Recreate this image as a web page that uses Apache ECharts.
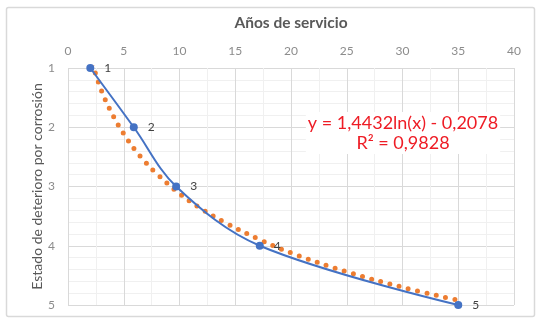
<!DOCTYPE html>
<html>
<head>
<meta charset="utf-8">
<script src="https://cdn.jsdelivr.net/npm/echarts@6/dist/echarts.min.js"></script>
<style>
  html, body { margin: 0; padding: 0; background: #fff; }
  #chart { width: 541px; height: 324px; }
</style>
</head>
<body>
<div id="chart"></div>
<script>
// observed points: años de servicio vs estado de deterioro
const years = [2, 5.9, 9.7, 17.2, 35];
const states = [1, 2, 3, 4, 5];
const pointLabels = ['1', '2', '3', '4', '5'];

// logarithmic trendline, values
const trendYears = [2.2, 3, 4, 5, 6, 7, 8, 10, 12, 14, 17, 20, 25, 30, 35];
const trendStates = [0.93, 1.38, 1.79, 2.11, 2.38, 2.60, 2.79, 3.12, 3.38, 3.60, 3.88, 4.12, 4.44, 4.70, 4.92];

const xTicks = [0, 5, 10, 15, 20, 25, 30, 35, 40];
const yTicks = [1, 2, 3, 4, 5];

const equationText = 'y = 1,4432ln(x) - 0,2078';
const r2Text = 'R² = 0,9828';

const chart = echarts.init(document.getElementById('chart'));

const option = {
  backgroundColor: '#fff',
  textStyle: { fontFamily: 'Lato' },
  animation: false,
  grid: { left: 68, right: 27, top: 68, bottom: 19 },
  graphic: [
    {
      type: 'rect',
      shape: { x: 6.5, y: 7.5, width: 528, height: 309, r: 2 },
      style: { fill: 'none', stroke: '#d9d9d9', lineWidth: 1.5 },
      z: -1
    },
    {
      type: 'text',
      x: 403, y: 133,
      z: 10,
      style: {
        text: equationText + '\n' + r2Text,
        fill: '#ee1c25',
        font: '18px Lato',
        align: 'center',
        verticalAlign: 'middle',
        lineHeight: 20,
        backgroundColor: '#fff',
        padding: [1, 2]
      }
    }
  ],
  xAxis: {
    type: 'value',
    position: 'top',
    min: xTicks[0],
    max: xTicks[xTicks.length - 1],
    interval: 5,
    name: 'Años de servicio',
    nameLocation: 'middle',
    nameGap: 37,
    nameTextStyle: { color: '#595959', fontSize: 15.5, fontWeight: 'bold' },
    axisLine: { show: false },
    axisTick: { show: false },
    axisLabel: { color: '#8c8c8c', fontSize: 12, margin: 11 },
    splitLine: { show: true, lineStyle: { color: '#d9d9d9', width: 1 } },
    minorTick: { show: false, splitNumber: 2 },
    minorSplitLine: { show: true, lineStyle: { color: '#f0f0f0', width: 1 } }
  },
  yAxis: {
    type: 'value',
    inverse: true,
    min: yTicks[0],
    max: yTicks[yTicks.length - 1],
    interval: 1,
    name: 'Estado de deterioro por corrosión',
    nameLocation: 'middle',
    nameGap: 24,
    nameMoveOverlap: false,
    nameTextStyle: { color: '#595959', fontSize: 14 },
    axisLine: { show: false },
    axisTick: { show: false },
    axisLabel: { color: '#8c8c8c', fontSize: 12, margin: 13 },
    splitLine: { show: true, lineStyle: { color: '#d9d9d9', width: 1 } },
    minorTick: { show: false, splitNumber: 5 },
    minorSplitLine: { show: true, lineStyle: { color: '#f0f0f0', width: 1 } }
  },
  series: [
    {
      name: 'tendencia',
      type: 'line',
      data: trendYears.map((x, i) => [x, trendStates[i]]),
      smooth: 0.4,
      symbol: 'none',
      clip: true,
      lineStyle: { color: '#ed7d31', width: 5, type: [0, 9.5], cap: 'round' },
      z: 2
    },
    {
      name: 'estado',
      type: 'line',
      data: years.map((x, i) => [x, states[i]]),
      smooth: 0.35,
      symbol: 'circle',
      symbolSize: 8,
      lineStyle: { color: '#4472c4', width: 2 },
      itemStyle: { color: '#4472c4' },
      label: {
        show: true,
        position: 'right',
        distance: 10,
        color: '#404040',
        fontSize: 12,
        formatter: p => pointLabels[p.dataIndex]
      },
      z: 3
    }
  ]
};

chart.setOption(option);
</script>
</body>
</html>
